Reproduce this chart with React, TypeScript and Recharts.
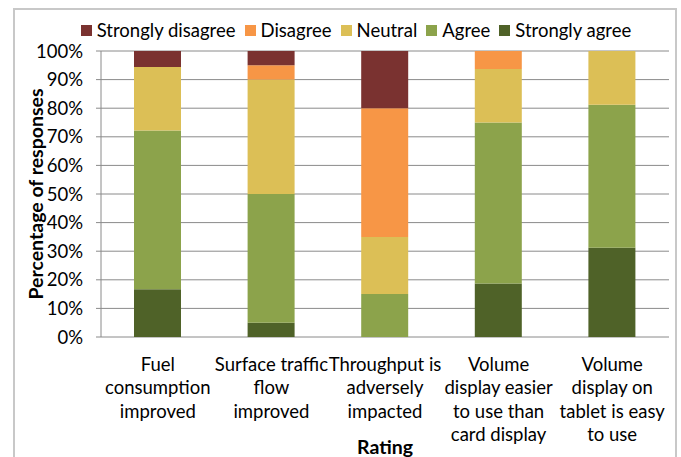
import React from "react";
import { BarChart, Bar, XAxis, YAxis, CartesianGrid, Legend, Label } from "recharts";

const categories = [
  "Fuel\nconsumption\nimproved",
  "Surface traffic\nflow\nimproved",
  "Throughput is\nadversely\nimpacted",
  "Volume\ndisplay easier\nto use than\ncard display",
  "Volume\ndisplay on\ntablet is easy\nto use",
];
const stronglyAgree = [16.7, 5, 0, 18.75, 31.25];
const agree = [55.5, 45, 15, 56.25, 50];
const neutral = [22.2, 40, 20, 18.75, 18.75];
const disagree = [0, 5, 45, 6.25, 0];
const stronglyDisagree = [5.6, 5, 20, 0, 0];
const yTicks = [0, 10, 20, 30, 40, 50, 60, 70, 80, 90, 100];

const series = [
  { key: "sa", name: "Strongly agree", color: "#4F6228", values: stronglyAgree },
  { key: "a", name: "Agree", color: "#8CA34B", values: agree },
  { key: "n", name: "Neutral", color: "#DCBF56", values: neutral },
  { key: "d", name: "Disagree", color: "#F79646", values: disagree },
  { key: "sd", name: "Strongly disagree", color: "#7A3230", values: stronglyDisagree },
];

const data = categories.map((c, i) => {
  const row: any = { cat: c };
  series.forEach((s) => (row[s.key] = s.values[i]));
  return row;
});

const FONT = "Lato, 'Liberation Sans', sans-serif";
const FS = 18.5;

const CatTick = (props: any) => {
  const { x, y, payload } = props;
  const lines = String(payload.value).split("\n");
  return (
    <text x={x} y={y} textAnchor="middle" fontSize={FS} fontFamily={FONT} fill="#000">
      {lines.map((l, i) => (
        <tspan key={i} x={x} dy={i === 0 ? 34 : 23.3}>
          {l}
        </tspan>
      ))}
    </text>
  );
};

const LegendContent = () => (
  <div
    style={{
      display: "flex",
      justifyContent: "center",
      alignItems: "center",
      fontFamily: FONT,
      fontSize: FS,
      color: "#000",
      paddingLeft: 40,
    }}
  >
    {[...series].reverse().map((s) => (
      <div key={s.key} style={{ display: "flex", alignItems: "center", marginRight: 9 }}>
        <div style={{ width: 11, height: 11, background: s.color, marginRight: 5 }} />
        <span>{s.name}</span>
      </div>
    ))}
  </div>
);

const YTitle = (props: any) => {
  const vb = props.viewBox || { x: 0, y: 0, width: 0, height: 0 };
  const cx = vb.x + 35;
  const cy = vb.y + vb.height / 2;
  return (
    <text
      x={cx}
      y={cy}
      transform={`rotate(-90 ${cx} ${cy})`}
      textAnchor="middle"
      dominantBaseline="central"
      fontSize={19.5}
      fontWeight="bold"
      fontFamily={FONT}
      fill="#000"
    >
      Percentage of responses
    </text>
  );
};

const XTitle = (props: any) => {
  const vb = props.viewBox || { x: 0, y: 0, width: 0, height: 0 };
  return (
    <text
      x={vb.x + vb.width / 2}
      y={vb.y + 109}
      textAnchor="middle"
      dominantBaseline="central"
      fontSize={19.5}
      fontWeight="bold"
      fontFamily={FONT}
      fill="#000"
    >
      Rating
    </text>
  );
};

const edgeTicks = categories.map((_, i) => i).concat([categories.length]);

export default function App() {
  return (
    <div style={{ position: "absolute", left: 0, top: 0, width: 681, height: 457, background: "#fff", overflow: "hidden" }}>
      <div
        style={{
          position: "absolute",
          left: 13,
          top: 8,
          width: 664,
          height: 449,
          boxSizing: "border-box",
          borderTop: "2px solid #C8C8C8",
          borderLeft: "2px solid #C8C8C8",
          borderRight: "2px solid #C8C8C8",
        }}
      />
      <BarChart
        width={681}
        height={457}
        data={data}
        margin={{ top: 51, right: 12, bottom: 0, left: 0 }}
        barSize={47}
        style={{ position: "absolute", left: 0, top: 0 }}
      >
        <CartesianGrid vertical={false} stroke="#8A8A8A" strokeWidth={1} />
        <XAxis
          xAxisId="edges"
          type="number"
          domain={[0, categories.length]}
          ticks={edgeTicks}
          tick={false}
          tickSize={5}
          tickLine={{ stroke: "#8A8A8A" }}
          axisLine={{ stroke: "#8A8A8A" }}
          height={0}
          allowDataOverflow
        />
        <XAxis
          dataKey="cat"
          interval={0}
          tick={<CatTick />}
          tickLine={false}
          axisLine={false}
          tickSize={0}
          tickMargin={0}
          height={120}
        >
          <Label content={<XTitle />} />
        </XAxis>
        <YAxis
          width={101}
          domain={[0, 100]}
          ticks={yTicks}
          tickFormatter={(v: number) => `${v}%`}
          tick={{ fontSize: FS, fontFamily: FONT, fill: "#000" }}
          tickLine={{ stroke: "#8A8A8A" }}
          axisLine={{ stroke: "#8A8A8A" }}
          tickSize={5}
          tickMargin={13}
        >
          <Label content={<YTitle />} />
        </YAxis>
        <Legend
          layout="horizontal"
          verticalAlign="middle"
          align="center"
          wrapperStyle={{ top: 19, left: 0, width: 681 }}
          content={<LegendContent />}
        />
        {series.map((s) => (
          <Bar key={s.key} dataKey={s.key} name={s.name} stackId="s" fill={s.color} isAnimationActive={false} />
        ))}
      </BarChart>
    </div>
  );
}
